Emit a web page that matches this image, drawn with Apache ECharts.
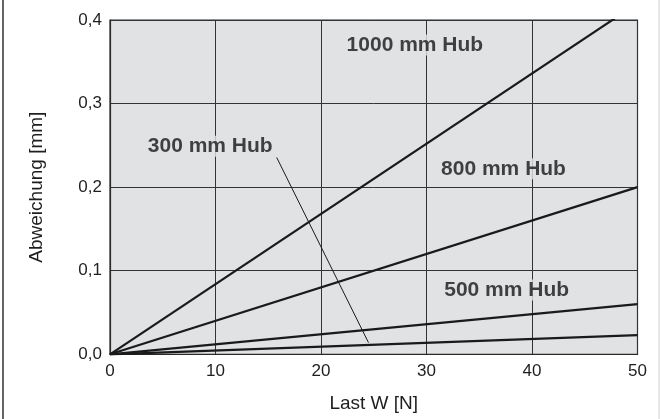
<!DOCTYPE html>
<html>
<head>
<meta charset="utf-8">
<script src="https://cdn.jsdelivr.net/npm/echarts@6/dist/echarts.min.js"></script>
<style>
html,body{margin:0;padding:0;background:#fff;}
#chart{width:660px;height:419px;}
</style>
</head>
<body>
<div id="chart"></div>
<script>
// Load W [N]
const loadX = [0, 50];
// Deflection [mm] per stroke
const hub1000 = [0, 0.42];
const hub800 = [0, 0.20];
const hub500 = [0, 0.06];
const hub300 = [0, 0.023];
// Leader line for 300 mm label (data coords)
const leaderX = [15.8, 24.5];
const leaderY = [0.2355, 0.014];
// Label texts and anchor points (data coords)
const labelTexts = ['1000 mm Hub', '800 mm Hub', '500 mm Hub', '300 mm Hub'];
const labelX = [28.9, 37.3, 37.6, 9.5];
const labelY = [0.370, 0.222, 0.077, 0.249];
// Axis ticks
const xTicks = [0, 10, 20, 30, 40, 50];
const yTicks = [0.0, 0.1, 0.2, 0.3, 0.4];

const font = 'Liberation Sans, Arial, Helvetica, sans-serif';
const lineColor = '#1a1a1a';

function pairs(xs, ys) { return xs.map((x, i) => [x, ys[i]]); }

const chart = echarts.init(document.getElementById('chart'), null, {renderer: 'canvas'});
const option = {
  animation: false,
  backgroundColor: '#ffffff',
  grid: {
    left: 110, right: 22.5, top: 20, bottom: 64.7,
    show: true, backgroundColor: '#e1e2e4', borderColor: '#2a2a2a', borderWidth: 1.2
  },
  xAxis: {
    type: 'value', min: xTicks[0], max: xTicks[xTicks.length - 1], interval: 10,
    name: 'Last W [N]', nameLocation: 'middle', nameGap: 40,
    nameTextStyle: {fontFamily: font, fontSize: 19, color: '#1e1e1e'},
    axisLine: {show: true, lineStyle: {color: '#2a2a2a', width: 1.2}},
    axisTick: {show: false},
    axisLabel: {fontFamily: font, fontSize: 17, color: '#1e1e1e', margin: 9},
    splitLine: {show: true, lineStyle: {color: '#333', width: 1}}
  },
  yAxis: {
    type: 'value', min: yTicks[0], max: yTicks[yTicks.length - 1], interval: 0.1,
    name: 'Abweichung [mm]', nameLocation: 'middle', nameGap: 64,
    nameTextStyle: {fontFamily: font, fontSize: 19, color: '#1e1e1e'},
    axisLine: {show: true, lineStyle: {color: '#2a2a2a', width: 1.2}},
    axisTick: {show: false},
    axisLabel: {fontFamily: font, fontSize: 17, color: '#1e1e1e', margin: 8,
      formatter: v => v.toFixed(1).replace('.', ',')},
    splitLine: {show: true, lineStyle: {color: '#333', width: 1}}
  },
  series: [
    {type: 'line', data: pairs(loadX, hub1000), symbol: 'none', clip: true,
      lineStyle: {color: lineColor, width: 2.2}},
    {type: 'line', data: pairs(loadX, hub800), symbol: 'none', clip: true,
      lineStyle: {color: lineColor, width: 2.2}},
    {type: 'line', data: pairs(loadX, hub500), symbol: 'none', clip: true,
      lineStyle: {color: lineColor, width: 2.2}},
    {type: 'line', data: pairs(loadX, hub300), symbol: 'none', clip: true,
      lineStyle: {color: lineColor, width: 2.2}},
    {type: 'line', data: pairs(leaderX, leaderY), symbol: 'none', clip: true,
      lineStyle: {color: lineColor, width: 1}},
    {type: 'scatter', symbolSize: 0, silent: true,
      data: labelTexts.map((t, i) => ({value: [labelX[i], labelY[i]], name: t})),
      label: {show: true, position: 'inside', formatter: p => p.name,
        fontFamily: font, fontSize: 21, fontWeight: 'bold', color: '#161616',
        backgroundColor: '#e1e2e4', padding: [0, 1]}}
  ],
  graphic: [
    {type: 'line', shape: {x1: 3, y1: 0, x2: 3, y2: 419}, style: {stroke: '#333', lineWidth: 1.5}},
    {type: 'line', shape: {x1: 659, y1: 0, x2: 659, y2: 419}, style: {stroke: '#cfcfcf', lineWidth: 1}}
  ]
};
chart.setOption(option);
</script>
</body>
</html>
